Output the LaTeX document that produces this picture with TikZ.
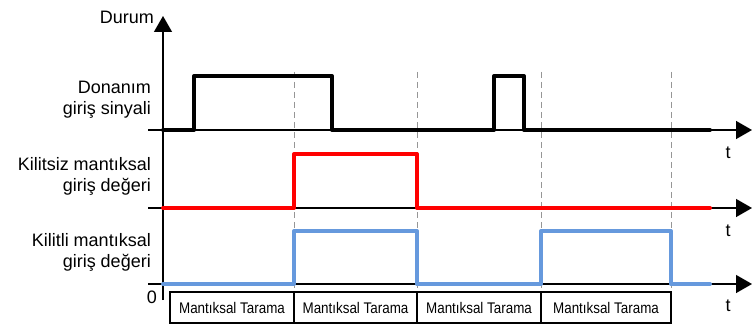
\documentclass[tikz,border=0pt]{standalone}
\usepackage{fontspec}
\usepackage{graphicx}
\setmainfont{Liberation Sans}
\usetikzlibrary{arrows.meta,positioning}
\definecolor{latchblue}{RGB}{102,153,221}
\definecolor{gridgray}{RGB}{150,150,150}
\newcommand{\scantext}{\scalebox{0.87}[1]{Mantıksal Tarama}}

\begin{document}
\begin{tikzpicture}[x=1pt,y=1pt,
    every node/.style={font=\fontsize{18}{21}\selectfont},
    axis/.style={line width=1.4pt, -{Triangle[length=16pt,width=18pt]}},
    sig/.style={line width=4pt, line cap=round, line join=round},
    tick/.style={gridgray, line width=0.9pt, dash pattern=on 6pt off 4pt},
    lbl/.style={align=right, anchor=east, inner sep=0pt},
    scan/.style={draw, line width=1.8pt, minimum height=31pt, inner sep=0pt, outer sep=0pt,
                 font=\fontsize{15.4}{18}\selectfont}]
    \useasboundingbox (0,0) rectangle (752,330);

    % axes
    \coordinate (o) at (163,30);
    \coordinate (top) at (163,314);
    \coordinate (hwS) at (148,200);  \coordinate (hwE) at (752,200);
    \coordinate (unS) at (148,122);  \coordinate (unE) at (752,122);
    \coordinate (laS) at (148,46);   \coordinate (laE) at (752,46);
    \draw[axis] (o) -- (top);
    \draw[axis] (hwS) -- (hwE);
    \draw[axis] (unS) -- (unE);
    \draw[axis] (laS) -- (laE);

    \node[lbl] (durum) at (154,313) {Durum};
    \node[lbl] (hw) at (151,230) {Donanım\\giriş sinyali};
    \node[lbl] (un) at (151,154) {Kilitsiz mantıksal\\giriş değeri};
    \node[lbl] (la) at (151,78) {Kilitli mantıksal\\giriş değeri};
    \node (zero) at (152,33) {0};
    \node (t1) at (728,177) {t};
    \node (t2) at (728,99) {t};
    \node (t3) at (728,24) {t};

    % scan borders
    \foreach \x in {294,417,541,671}
        \draw[tick] (\x,258) -- (\x,42);

    % signals
    \draw[sig, black] (163,200) -- (194,200) -- (194,254) -- (332,254) -- (332,200)
        -- (494,200) -- (494,254) -- (524,254) -- (524,200) -- (710,200);
    \draw[sig, red] (163,122) -- (294,122) -- (294,176) -- (417,176) -- (417,122) -- (710,122);
    \draw[sig, latchblue] (163,46) -- (294,46) -- (294,99) -- (417,99) -- (417,46)
        -- (541,46) -- (541,99) -- (671,99) -- (671,46) -- (710,46);

    % logic scans
    \node[scan, minimum width=124pt] (scan1) at (232,22.5) {\scantext};
    \node[scan, minimum width=123pt, right=0pt of scan1] (scan2) {\scantext};
    \node[scan, minimum width=124pt, right=0pt of scan2] (scan3) {\scantext};
    \node[scan, minimum width=130pt, right=0pt of scan3] (scan4) {\scantext};
\end{tikzpicture}
\end{document}
